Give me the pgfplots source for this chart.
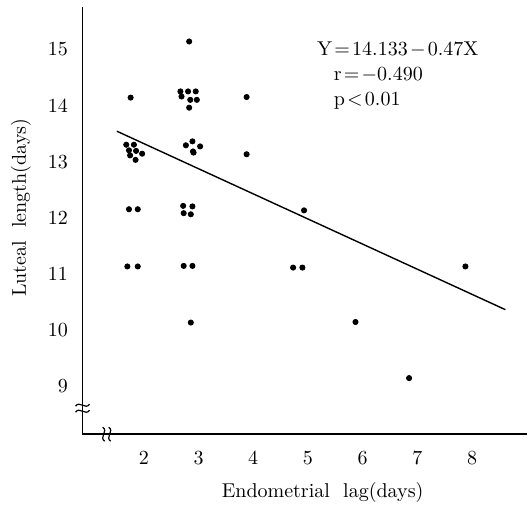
\documentclass[border=0pt]{standalone}
\usepackage{pgfplots}
\pgfplotsset{compat=1.18}

\begin{document}
\begin{tikzpicture}
\begin{axis}[
    scale only axis,
    width=222pt, height=213.65pt,
    xmin=1, xmax=9.12,
    ymin=8, ymax=15.62,
    clip=false,
    axis x line=bottom, axis y line=left,
    axis line style={-, line width=0.8pt},
    xtick={2,...,8}, ytick={9,...,15},
    major tick length=0pt,
    xticklabel style={xshift=3.3pt, yshift=-5.1pt},
    yticklabel style={xshift=-3.8pt, yshift=-4pt},
    xlabel={Endometrial\ \ lag(days)},
    ylabel={Luteal\ \ length(days)},
    every axis x label/.style={at={(axis description cs:0.5405,-0.1357)}, anchor=center},
    every axis y label/.style={at={(axis description cs:-0.1385,0.53)}, anchor=center, rotate=90},
]
% observations (slightly spread where several share a value)
\addplot[only marks, mark=*, mark size=1.3pt, black] coordinates {
    (1.88,14.00)
    (1.80,13.16) (1.94,13.16) (1.85,13.06) (1.98,13.05) (1.87,12.97) (2.09,13.00) (1.97,12.89)
    (1.85,12.01) (2.01,12.01)
    (1.82,10.99) (2.01,10.99)
    (2.95,15.00)
    (2.79,14.11) (2.93,14.11) (3.07,14.11) (2.81,14.02) (2.97,13.96) (3.09,13.96) (2.95,13.82)
    (2.89,13.15) (3.01,13.22) (3.15,13.13) (3.02,13.04) (3.03,13.02)
    (2.84,12.07) (3.01,12.06) (2.85,11.94) (2.98,11.92)
    (2.85,11.00) (3.01,11.00)
    (2.98,9.99)
    (4.00,14.01) (4.00,12.99)
    (5.05,11.99) (4.85,10.97) (5.02,10.97)
    (5.99,10.00)
    (6.97,9.00)
    (8.00,10.99)
};
% regression line
\addplot[black, line width=0.7pt] coordinates {(1.63,13.40) (8.73,10.22)};

\node[anchor=base west, inner sep=0pt] at (axis description cs:0.5275,0.8861)
    {\thickmuskip=2mu \medmuskip=2mu $\mathrm{Y}=14.133-0.47\mathrm{X}$};
\node[anchor=base west, inner sep=0pt] at (axis description cs:0.5649,0.8275)
    {\thickmuskip=2mu \medmuskip=2mu $\mathrm{r}=-0.490$};
\node[anchor=base west, inner sep=0pt] at (axis description cs:0.5649,0.7692)
    {\thickmuskip=2mu $\mathrm{p}<0.01$};

\coordinate (ybreak) at (axis description cs:0,0.0608);
\coordinate (xbreak) at (axis description cs:0.0545,0);

% page area
\path (axis description cs:-0.1857,-0.1638) rectangle (axis description cs:1.0074,1.0157);
\end{axis}

% axis breaks
\begin{scope}[shift={(ybreak)}, line width=0.6pt]
    \draw (-3.5pt,1pt) .. controls (-1.5pt,4pt) and (1.5pt,-1pt) .. (3.5pt,2pt);
    \draw (-3.5pt,-2pt) .. controls (-1.5pt,1pt) and (1.5pt,-4pt) .. (3.5pt,-1pt);
\end{scope}
\begin{scope}[shift={(xbreak)}, line width=0.6pt]
    \draw (-1pt,-3.5pt) .. controls (-4pt,-1.5pt) and (1pt,1.5pt) .. (-2pt,3.5pt);
    \draw (2pt,-3.5pt) .. controls (-1pt,-1.5pt) and (4pt,1.5pt) .. (1pt,3.5pt);
\end{scope}
\end{tikzpicture}
\end{document}
